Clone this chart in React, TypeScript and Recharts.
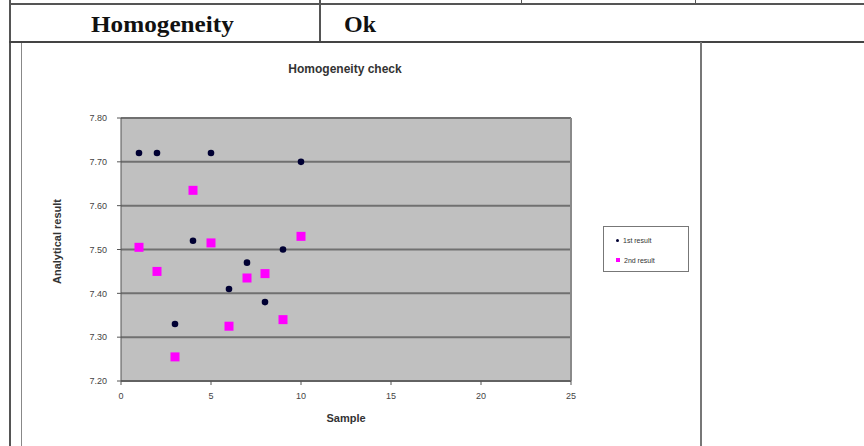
import React from 'react';
import {
  ScatterChart,
  Scatter,
  XAxis,
  YAxis,
  CartesianGrid,
  ReferenceLine,
} from 'recharts';

const samples = [1, 2, 3, 4, 5, 6, 7, 8, 9, 10];
const firstResult = [7.72, 7.72, 7.33, 7.52, 7.72, 7.41, 7.47, 7.38, 7.5, 7.7];
const secondResult = [7.505, 7.45, 7.255, 7.635, 7.515, 7.325, 7.435, 7.445, 7.34, 7.53];
const xTicks = [0, 5, 10, 15, 20, 25];
const yTicks = [7.2, 7.3, 7.4, 7.5, 7.6, 7.7, 7.8];

const firstData = samples.map((s, i) => ({ x: s, y: firstResult[i] }));
const secondData = samples.map((s, i) => ({ x: s, y: secondResult[i] }));

const font = 'Arial, Liberation Sans, sans-serif';
const serif = 'Liberation Serif, Times New Roman, serif';

const line = (left: number, top: number, width: number, height: number, color = '#555') => (
  <div style={{ position: 'absolute', left, top, width, height, background: color }} />
);

const Dot = (props: any) => (
  <circle cx={props.cx} cy={props.cy} r={3.3} fill="#000033" />
);

const Sq = (props: any) => (
  <rect x={props.cx - 4.5} y={props.cy - 4.5} width={9} height={9} fill="#ff00ff" />
);

// rotated y-axis title, sits a little above the plot's middle like the original
const YTitle = (props: any) => {
  const { viewBox } = props;
  const x = viewBox.x - 4;
  const y = viewBox.y + viewBox.height / 2 - 8;
  return (
    <text
      x={x}
      y={y}
      transform={`rotate(-90, ${x}, ${y})`}
      textAnchor="middle"
      dominantBaseline="central"
      fill="#333"
      fontSize={11}
      fontWeight="bold"
      fontFamily={font}
    >
      Analytical result
    </text>
  );
};

const LegendBox = () => (
  <div
    style={{
      position: 'absolute',
      left: 603,
      top: 226,
      border: '1px solid #777',
      background: '#fff',
      width: 86,
      height: 46,
      boxSizing: 'border-box',
      fontFamily: font,
      fontSize: 7,
      color: '#333',
      paddingLeft: 12,
      paddingTop: 7,
    }}
  >
    <div style={{ display: 'flex', alignItems: 'center', height: 12 }}>
      <span style={{ width: 3, height: 3, borderRadius: 2, background: '#000033', marginRight: 4 }} />
      1st result
    </div>
    <div style={{ display: 'flex', alignItems: 'center', height: 12, marginTop: 8 }}>
      <span style={{ width: 4, height: 4, background: '#ff00ff', marginRight: 4 }} />
      2nd result
    </div>
  </div>
);

export default function App() {
  return (
    <div
      style={{
        position: 'absolute',
        left: 0,
        top: 0,
        width: 864,
        height: 446,
        background: '#fff',
        overflow: 'hidden',
      }}
    >
      {/* table borders */}
      {line(9, 3, 855, 2)}
      {line(9, 0, 2, 446)}
      {line(319, 0, 2, 43)}
      {line(521, 0, 1, 4)}
      {line(695, 0, 1, 4)}
      {line(9, 41, 855, 2, '#444')}
      {line(21, 43, 1, 403, '#888')}
      {line(700, 42, 2, 404, '#777')}

      <div
        style={{
          position: 'absolute',
          left: 91,
          top: 11,
          fontFamily: serif,
          fontWeight: 'bold',
          fontSize: 24,
          color: '#111',
          transform: 'scaleX(1.05)',
          transformOrigin: 'left',
        }}
      >
        Homogeneity
      </div>
      <div
        style={{
          position: 'absolute',
          left: 344,
          top: 11,
          fontFamily: serif,
          fontWeight: 'bold',
          fontSize: 24,
          color: '#111',
        }}
      >
        Ok
      </div>

      <div
        style={{
          position: 'absolute',
          left: 0,
          top: 62,
          width: 690,
          textAlign: 'center',
          fontFamily: font,
          fontWeight: 'bold',
          fontSize: 12,
          color: '#333',
        }}
      >
        Homogeneity check
      </div>

      <div style={{ position: 'absolute', left: 0, top: 0 }}>
        <ScatterChart
          width={864}
          height={446}
          margin={{ top: 118, right: 293, bottom: 35, left: 61 }}
        >
          <CartesianGrid
            vertical={false}
            fill="#c0c0c0"
            fillOpacity={1}
            stroke="#707070"
            strokeWidth={2}
          />
          <ReferenceLine x={25} stroke="#8a8a8a" strokeWidth={2} />
          <XAxis
            type="number"
            dataKey="x"
            domain={[0, 25]}
            ticks={xTicks}
            interval={0}
            height={30}
            axisLine={{ stroke: '#555' }}
            tickLine={{ stroke: '#555' }}
            tickSize={4}
            tickMargin={8}
            tick={{ fill: '#444', fontSize: 9, fontFamily: font }}
            label={{
              value: 'Sample',
              position: 'insideBottom',
              offset: -11,
              style: { fill: '#333', fontSize: 11, fontWeight: 'bold', fontFamily: font },
            }}
          />
          <YAxis
            type="number"
            dataKey="y"
            domain={[7.2, 7.8]}
            ticks={yTicks}
            interval={0}
            width={60}
            axisLine={{ stroke: '#555' }}
            tickLine={{ stroke: '#555' }}
            tickSize={4}
            tickMargin={10}
            tickFormatter={(v: number) => v.toFixed(2)}
            tick={{ fill: '#444', fontSize: 9, fontFamily: font }}
            label={<YTitle />}
          />
          <Scatter name="1st result" data={firstData} shape={<Dot />} isAnimationActive={false} />
          <Scatter name="2nd result" data={secondData} shape={<Sq />} isAnimationActive={false} />
        </ScatterChart>
      </div>

      <LegendBox />
    </div>
  );
}
